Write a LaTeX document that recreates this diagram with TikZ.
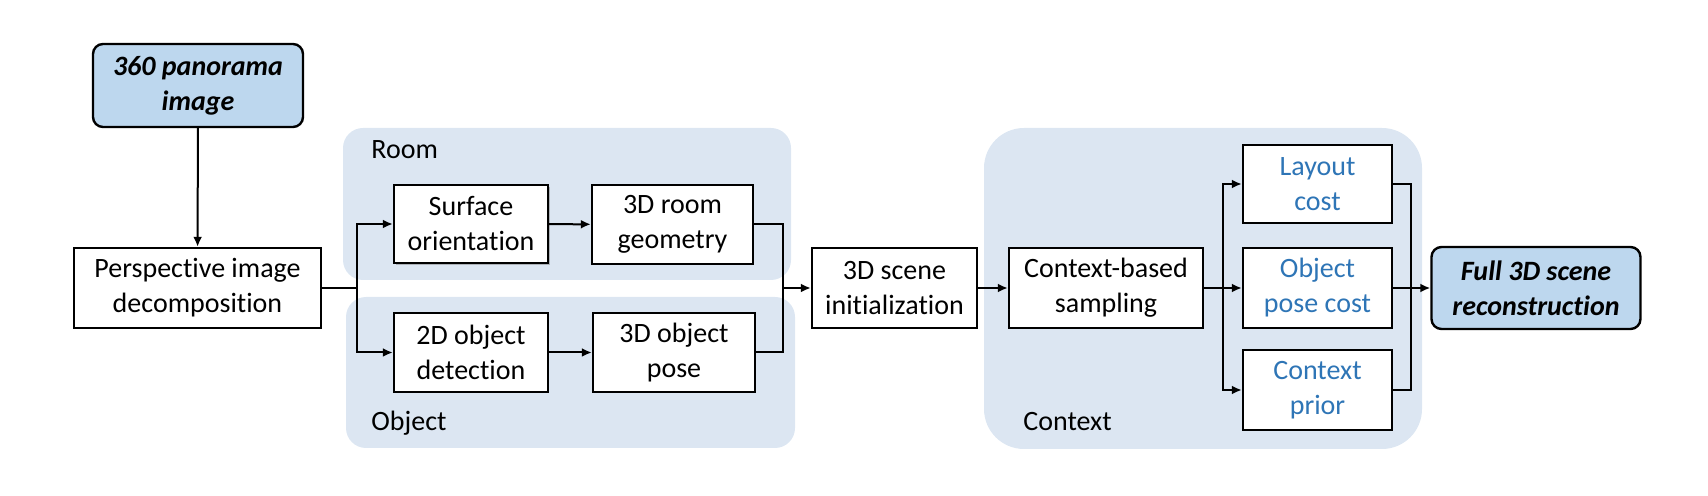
\documentclass[tikz,border=0pt]{standalone}
\usepackage{fontspec}
\setmainfont{Carlito}[Ligatures={NoCommon}]
\usetikzlibrary{arrows.meta,shadows}
\definecolor{bgblue}{HTML}{DCE6F2}
\definecolor{termblue}{HTML}{BDD7EE}
\definecolor{txtblue}{HTML}{2E75B6}
\tikzset{
  every node/.style={font=\fontsize{14}{17.5}\selectfont},
  stepbox/.style={draw=black, line width=1.2pt, fill=white, align=center, inner sep=0pt},
  termbox/.style={draw=black, line width=1.2pt, fill=termblue, rounded corners=5pt, align=center, inner sep=0pt, font=\fontsize{14}{17.5}\selectfont\bfseries\itshape},
  bluetext/.style={text=txtblue},
  conn/.style={line width=1pt, draw=black},
  arr/.style={conn, -{Latex[length=5pt,width=4.5pt]}},
  grouplbl/.style={anchor=base west, inner sep=0pt}
}
\begin{document}
\begin{tikzpicture}[x=0.5pt,y=-0.5pt]
\useasboundingbox (0,0) rectangle (1708,496);
% group backgrounds
\fill[bgblue, rounded corners=10pt] (343,128) rectangle (791,280);
\fill[bgblue, rounded corners=10pt] (346,297) rectangle (795,448);
\fill[bgblue, rounded corners=20pt] (984,128) rectangle (1422,449);
\node[grouplbl] (lroom) at (371,159) {Room};
\node[grouplbl] (lobj) at (371,431) {Object};
\node[grouplbl] (lctx) at (1023,431) {Context};
% boxes
\node[termbox, minimum width=105pt, minimum height=41.5pt] (pano) at (198,85.5) {360 panorama\\image};
\node[stepbox, minimum width=123.5pt, minimum height=40pt] (persp) at (197.5,288) {Perspective image\\decomposition};
\node[stepbox, minimum width=77pt, minimum height=39pt, drop shadow={shadow xshift=1.2pt, shadow yshift=-1.2pt, opacity=0.5}] (surf) at (471,224) {Surface\\orientation};
\node[stepbox, minimum width=80.5pt, minimum height=39.5pt] (room3d) at (672.5,224.5) {3D room\\geometry};
\node[stepbox, minimum width=77pt, minimum height=39.5pt] (det2d) at (471,352.5) {2D object\\detection};
\node[stepbox, minimum width=81pt, minimum height=39.5pt] (pose3d) at (674,352.5) {3D object\\pose};
\node[stepbox, minimum width=82.5pt, minimum height=40pt] (init) at (894.5,288) {3D scene\\initialization};
\node[stepbox, minimum width=97pt, minimum height=40pt] (samp) at (1106,288) {Context-based\\sampling};
\node[stepbox, minimum width=74.5pt, minimum height=39pt, bluetext] (layout) at (1317.5,184) {Layout\\cost};
\node[stepbox, minimum width=74.5pt, minimum height=40pt, bluetext] (posecost) at (1317.5,288) {Object\\pose cost};
\node[stepbox, minimum width=74.5pt, minimum height=40pt, bluetext] (prior) at (1317.5,390) {Context\\prior};
\node[termbox, minimum width=104.5pt, minimum height=41pt] (full) at (1536,288) {Full 3D scene\\reconstruction};
% junctions
\coordinate (j1) at (357,288);
\coordinate (j2) at (783,288);
\coordinate (j3) at (1223,288);
\coordinate (j4) at (1411,288);
% connectors
\draw[arr] (pano) -- (persp);
\draw[conn] (persp.east) -- (j1);
\draw[arr] (j1) |- (surf.west);
\draw[arr] (j1) |- (det2d.west);
\draw[arr] (surf) -- (room3d);
\draw[arr] (det2d) -- (pose3d);
\draw[conn] (room3d.east) -| (j2);
\draw[conn] (pose3d.east) -| (j2);
\draw[arr] (j2) -- (init.west);
\draw[arr] (init) -- (samp);
\draw[conn] (samp.east) -- (j3);
\draw[arr] (j3) |- (layout.west);
\draw[arr] (j3) -- (posecost.west);
\draw[arr] (j3) |- (prior.west);
\draw[conn] (layout.east) -| (j4);
\draw[conn] (prior.east) -| (j4);
\draw[conn] (posecost.east) -- (j4);
\draw[arr] (j4) -- (full.west);
\end{tikzpicture}
\end{document}
